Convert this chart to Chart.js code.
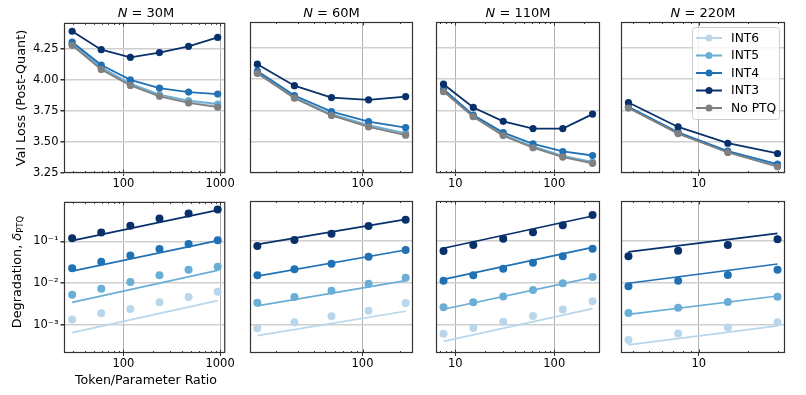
<!DOCTYPE html>
<html>
<head>
<meta charset="utf-8">
<script src="https://cdn.jsdelivr.net/npm/chart.js@4.4.1/dist/chart.umd.min.js"></script>
<style>
  body { margin: 0; background: #fff; font-family: "DejaVu Sans", sans-serif; color: #000; }
  #wrap { position: relative; width: 806px; height: 395px; overflow: hidden; }
  canvas { position: absolute; }
  .title { position: absolute; white-space: nowrap; transform: translateX(-50%); font-size: 13px; line-height: 1; }
  .xlab { position: absolute; white-space: nowrap; transform: translateX(-50%); font-size: 12.6px; line-height: 1; }
  .ylab { position: absolute; white-space: nowrap; transform: translate(-50%, -50%) rotate(-90deg); font-size: 12.8px; line-height: 1; }
  sub { font-size: 8.5px; vertical-align: -2px; }
</style>
</head>
<body>
<div id="wrap"></div>
<script>
// ---- data ----
const seriesNames = ['INT6', 'INT5', 'INT4', 'INT3', 'No PTQ'];
const seriesColors = ['#b9d6ea', '#6aaed6', '#2171b5', '#08306b', '#808080'];
const panelTitles = ['30M', '60M', '110M', '220M'];

// token/parameter ratios per model size
const ratio30M = [29.5, 59, 118, 236, 472, 944];
const ratio60M = [14, 28, 56, 112, 224];
const ratio110M = [7.6, 15.2, 30.5, 61, 122, 244];
const ratio220M = [3.75, 7.5, 15, 30];

// val loss (post-quant): INT6, INT5, INT4, INT3, No PTQ
const loss30M = [
  [4.285, 4.09, 3.96, 3.872, 3.822, 3.788],
  [4.29, 4.10, 3.968, 3.88, 3.832, 3.805],
  [4.303, 4.118, 3.999, 3.933, 3.901, 3.885],
  [4.39, 4.242, 4.18, 4.218, 4.269, 4.34],
  [4.277, 4.083, 3.954, 3.867, 3.813, 3.779]
];
const loss60M = [
  [4.048, 3.85, 3.713, 3.622, 3.556],
  [4.052, 3.855, 3.72, 3.632, 3.568],
  [4.065, 3.869, 3.74, 3.66, 3.613],
  [4.12, 3.948, 3.853, 3.835, 3.861],
  [4.047, 3.848, 3.71, 3.618, 3.552]
];
const loss110M = [
  [3.902, 3.702, 3.551, 3.455, 3.38, 3.33],
  [3.906, 3.706, 3.556, 3.462, 3.387, 3.338],
  [3.92, 3.713, 3.573, 3.483, 3.422, 3.39],
  [3.96, 3.774, 3.663, 3.605, 3.605, 3.721],
  [3.901, 3.70, 3.549, 3.452, 3.377, 3.327]
];
const loss220M = [
  [3.77, 3.566, 3.416, 3.303],
  [3.772, 3.568, 3.418, 3.307],
  [3.779, 3.575, 3.425, 3.321],
  [3.813, 3.618, 3.488, 3.406],
  [3.769, 3.565, 3.414, 3.30]
];

// degradation: INT6, INT5, INT4, INT3
const deg30M = [
  [0.00135, 0.0019, 0.00241, 0.00347, 0.00464, 0.0062],
  [0.0053, 0.0073, 0.0106, 0.0155, 0.0208, 0.0246],
  [0.0228, 0.0323, 0.0457, 0.066, 0.0867, 0.106],
  [0.118, 0.164, 0.236, 0.352, 0.464, 0.58]
];
const deg60M = [
  [0.00082, 0.00114, 0.0016, 0.00216, 0.00329],
  [0.00334, 0.00457, 0.00645, 0.00945, 0.0131],
  [0.015, 0.0208, 0.0284, 0.0416, 0.06],
  [0.0748, 0.104, 0.147, 0.224, 0.316]
];
const deg110M = [
  [0.00061, 0.00084, 0.00118, 0.00162, 0.0023, 0.00362],
  [0.0026, 0.00341, 0.0047, 0.0067, 0.0097, 0.0137],
  [0.0112, 0.015, 0.0216, 0.0299, 0.0425, 0.0645],
  [0.0569, 0.079, 0.111, 0.159, 0.232, 0.409]
];
const deg220M = [
  [0.00043, 0.00062, 0.00086, 0.00114],
  [0.0019, 0.00253, 0.00347, 0.00464],
  [0.0082, 0.0112, 0.0153, 0.0204],
  [0.0426, 0.0578, 0.079, 0.108]
];

// fitted power-law lines: value at first and last ratio
const fit30M = [[0.00065, 0.0038], [0.00347, 0.0201], [0.0193, 0.104], [0.104, 0.56]];
const fit60M = [[0.00055, 0.00209], [0.0028, 0.0112], [0.0144, 0.06], [0.082, 0.323]];
const fit110M = [[0.0004, 0.00241], [0.00233, 0.0134], [0.012, 0.0696], [0.066, 0.387]];
const fit220M = [[0.00033, 0.00094], [0.00177, 0.00482], [0.0097, 0.0279], [0.054, 0.15]];

// axis ticks
const lossTicks = [3.25, 3.5, 3.75, 4.0, 4.25];
const degTicks = [0.001, 0.01, 0.1];
const degTickLabels = ['10⁻³', '10⁻²', '10⁻¹'];
const xDecades = [1, 10, 100, 1000];

// ---- layout ----
const wrap = document.getElementById('wrap');
const colL = [64, 250, 436, 621], colR = [228, 413, 600, 785];
const rowT = [22, 201], rowB = [173, 353];
const xRanges = [[24.3, 1130], [12.2, 257], [6.38, 290], [3.38, 33.3]];
const PADL = 50, PADT = 8, PADR = 8, PADB = 24;
const tickFont = { family: 'DejaVu Sans', size: 11.5 };

const framePlugin = {
  id: 'frame',
  afterDatasetsDraw(chart) {
    const { ctx, chartArea: a } = chart;
    const x = chart.scales.x;
    ctx.save();
    ctx.strokeStyle = '#333';
    ctx.lineWidth = 1;
    ctx.beginPath();
    for (let d = -1; d < 4; d++) {
      for (let k = 1; k < 10; k++) {
        const v = k * Math.pow(10, d);
        if (v < x.min || v > x.max) continue;
        const px = Math.round(x.getPixelForValue(v)) + 0.5;
        const len = k === 1 ? 3.5 : 2;
        ctx.moveTo(px, a.bottom); ctx.lineTo(px, a.bottom - len);
        ctx.moveTo(px, a.top); ctx.lineTo(px, a.top + len);
      }
    }
    ctx.stroke();
    ctx.lineWidth = 1.2;
    ctx.strokeRect(a.left + 0.5, a.top + 0.5, a.right - a.left - 1, a.bottom - a.top - 1);
    ctx.restore();
  }
};

const legendPlugin = {
  id: 'innerLegend',
  afterDraw(chart, args, opts) {
    if (!opts.show) return;
    const { ctx, chartArea: a } = chart;
    const bx = a.right - 93, by = a.top + 5, bw = 87, bh = 92;
    ctx.save();
    ctx.fillStyle = 'rgba(255,255,255,0.8)';
    ctx.strokeStyle = '#cccccc';
    ctx.lineWidth = 1;
    ctx.beginPath();
    ctx.roundRect(bx + 0.5, by + 0.5, bw, bh, 3);
    ctx.fill();
    ctx.stroke();
    seriesNames.forEach((name, i) => {
      const y = by + 11 + i * 17.5;
      ctx.strokeStyle = seriesColors[i];
      ctx.lineWidth = 2;
      ctx.beginPath(); ctx.moveTo(bx + 4, y); ctx.lineTo(bx + 30, y); ctx.stroke();
      ctx.fillStyle = seriesColors[i];
      ctx.beginPath(); ctx.arc(bx + 17, y, 3.5, 0, Math.PI * 2); ctx.fill();
      ctx.fillStyle = '#000';
      ctx.font = '12.3px "DejaVu Sans"';
      ctx.textBaseline = 'middle';
      ctx.fillText(name, bx + 39, y + 0.5);
    });
    ctx.restore();
  }
};

function xScale(col) {
  return {
    type: 'logarithmic',
    min: xRanges[col][0],
    max: xRanges[col][1],
    afterFit: s => { s.height = PADB; },
    afterBuildTicks: s => {
      s.ticks = xDecades.filter(v => v >= s.min && v <= s.max).map(v => ({ value: v, major: true }));
    },
    ticks: { callback: v => String(v), font: tickFont, color: '#000', padding: 1, autoSkip: false, maxRotation: 0 },
    grid: { color: '#b0b0b0', lineWidth: 1, drawTicks: true, tickLength: 3, tickColor: '#333' },
    border: { display: false }
  };
}

function makePanel(col, row, datasets, yScale, showLegend) {
  const c = document.createElement('canvas');
  const w = colR[col] - colL[col] + PADL + PADR;
  const h = rowB[row] - rowT[row] + PADT + PADB;
  c.width = w; c.height = h;
  c.style.width = w + 'px'; c.style.height = h + 'px';
  c.style.left = (colL[col] - PADL) + 'px';
  c.style.top = (rowT[row] - PADT) + 'px';
  wrap.appendChild(c);
  new Chart(c, {
    type: 'line',
    data: { datasets },
    options: {
      responsive: false,
      animation: false,
      events: [],
      layout: { padding: { top: PADT, right: PADR, left: 0, bottom: 0 } },
      scales: { x: xScale(col), y: yScale },
      plugins: { legend: { display: false }, tooltip: { enabled: false }, innerLegend: { show: showLegend } }
    },
    plugins: [framePlugin, legendPlugin]
  });
}

const ratios = [ratio30M, ratio60M, ratio110M, ratio220M];
const losses = [loss30M, loss60M, loss110M, loss220M];
const degs = [deg30M, deg60M, deg110M, deg220M];
const fits = [fit30M, fit60M, fit110M, fit220M];

for (let col = 0; col < 4; col++) {
  const xs = ratios[col];

  // top row: val loss
  const lossSets = seriesNames.map((name, i) => ({
    label: name,
    data: xs.map((x, j) => ({ x, y: losses[col][i][j] })),
    borderColor: seriesColors[i],
    backgroundColor: seriesColors[i],
    borderWidth: 1.8,
    pointRadius: 3.6,
    pointBorderWidth: 0,
    tension: 0,
    order: 4 - i
  }));
  makePanel(col, 0, lossSets, {
    type: 'linear',
    min: 3.25,
    max: 4.457,
    afterFit: s => { s.width = PADL; },
    afterBuildTicks: s => { s.ticks = lossTicks.map(v => ({ value: v })); },
    ticks: { display: col === 0, callback: v => v.toFixed(2), font: tickFont, color: '#000', padding: 2 },
    grid: { color: '#cfcfcf', lineWidth: 1.5, drawTicks: true, tickLength: 3.5, tickColor: col === 0 ? '#333' : 'rgba(0,0,0,0)' },
    border: { display: false }
  }, col === 3);

  // bottom row: degradation with fitted lines
  const degSets = [];
  for (let i = 0; i < 4; i++) {
    degSets.push({
      label: seriesNames[i] + ' fit',
      data: [{ x: xs[0], y: fits[col][i][0] }, { x: xs[xs.length - 1], y: fits[col][i][1] }],
      borderColor: seriesColors[i],
      borderWidth: 1.7,
      pointRadius: 0,
      tension: 0,
      order: 8 - 2 * i
    });
    degSets.push({
      label: seriesNames[i],
      data: xs.map((x, j) => ({ x, y: degs[col][i][j] })),
      showLine: false,
      backgroundColor: seriesColors[i],
      borderColor: seriesColors[i],
      pointRadius: 4,
      pointBorderWidth: 0,
      order: 7 - 2 * i
    });
  }
  makePanel(col, 1, degSets, {
    type: 'logarithmic',
    min: 2.12e-4,
    max: 0.881,
    afterFit: s => { s.width = PADL; },
    afterBuildTicks: s => { s.ticks = degTicks.map(v => ({ value: v, major: true })); },
    ticks: { display: col === 0, callback: (v, i) => degTickLabels[i], font: tickFont, color: '#000', padding: 2 },
    grid: { color: '#cfcfcf', lineWidth: 1.5, drawTicks: true, tickLength: 3.5, tickColor: col === 0 ? '#333' : 'rgba(0,0,0,0)' },
    border: { display: false }
  }, false);

  const t = document.createElement('div');
  t.className = 'title';
  t.innerHTML = '<i>N</i> = ' + panelTitles[col];
  t.style.left = ((colL[col] + colR[col]) / 2) + 'px';
  t.style.top = '6px';
  wrap.appendChild(t);
}

const xl = document.createElement('div');
xl.className = 'xlab';
xl.textContent = 'Token/Parameter Ratio';
xl.style.left = '146px';
xl.style.top = '374px';
wrap.appendChild(xl);

const yl1 = document.createElement('div');
yl1.className = 'ylab';
yl1.textContent = 'Val Loss (Post-Quant)';
yl1.style.left = '20.5px';
yl1.style.top = '98px';
wrap.appendChild(yl1);

const yl2 = document.createElement('div');
yl2.className = 'ylab';
yl2.innerHTML = 'Degradation, <i>δ</i><sub>PTQ</sub>';
yl2.style.left = '18px';
yl2.style.top = '272px';
wrap.appendChild(yl2);
</script>
</body>
</html>
